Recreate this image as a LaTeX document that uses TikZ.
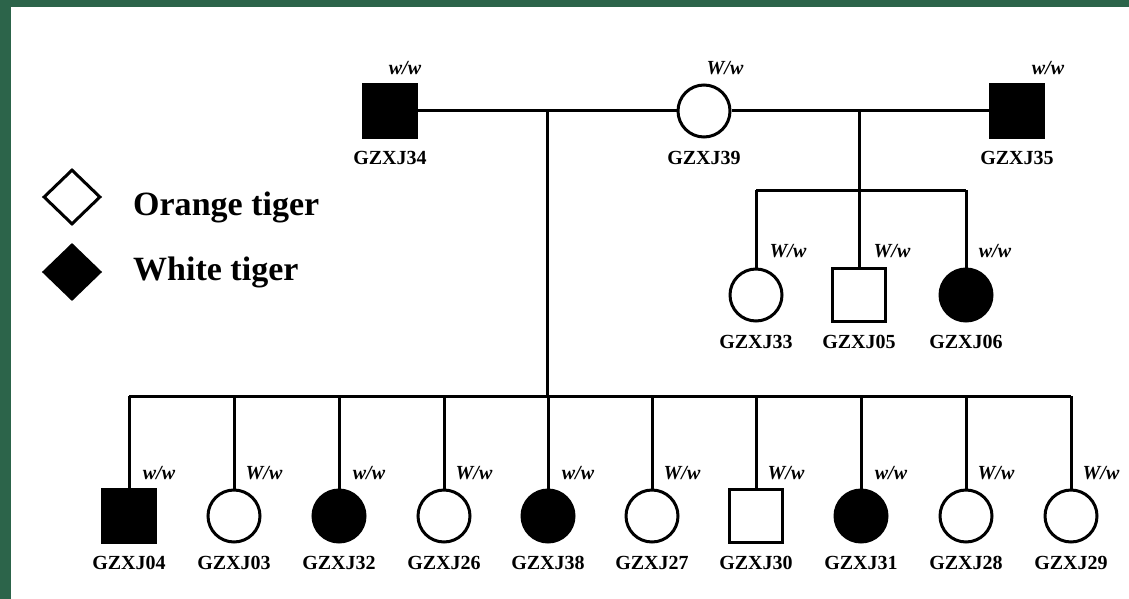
\documentclass[tikz,border=0pt]{standalone}
\usepackage{fontspec}
\setmainfont{Liberation Serif}
\usetikzlibrary{shapes.geometric}
\begin{document}
\begin{tikzpicture}[x=1pt,y=-1pt,
  lw/.style={line width=3pt},
  male/.style={draw, lw, rectangle, minimum size=53pt, inner sep=0pt},
  female/.style={draw, lw, circle, minimum size=52pt, inner sep=0pt},
  aff/.style={fill=black},
  unaff/.style={fill=white},
  idname/.style={font=\fontsize{20}{24}\selectfont\bfseries, inner sep=0pt, anchor=base},
  geno/.style={font=\fontsize{20}{24}\selectfont\bfseries\itshape, inner sep=0pt, anchor=base},
  legd/.style={draw, lw, diamond, minimum width=57pt, minimum height=55pt, inner sep=0pt},
  legtext/.style={font=\fontsize{34}{40}\selectfont\bfseries, inner sep=0pt, anchor=base west},
  conn/.style={lw}
]
\definecolor{frame}{HTML}{2C644A}
\useasboundingbox (0,0) rectangle (1129,599);
\fill[frame] (0,0) rectangle (1129,599);
\fill[white] (11,7) rectangle (1129,599);

% legend
\node[legd, fill=white] (lo) at (72,197) {};
\node[legd, fill=black] (lw) at (72,272) {};
\node[legtext] (lot) at (133,215) {Orange tiger};
\node[legtext] (lwt) at (133,280) {White tiger};

% generation I
\node[male, aff] (p34) at (390,111) {};
\node[female, unaff] (p39) at (704,111) {};
\node[male, aff] (p35) at (1017,111) {};
\node[idname] (n34) at (390,164) {GZXJ34};
\node[idname] (n39) at (704,164) {GZXJ39};
\node[idname] (n35) at (1017,164) {GZXJ35};
\node[geno] (g34) at (405,75) {w/w};
\node[geno] (g39) at (725,75) {W/w};
\node[geno] (g35) at (1048,75) {w/w};

\draw[conn] (p34.east) -- (p39.west);
\draw[conn] (p39.east) -- (p35.west);
\coordinate (m1) at (547,111);
\coordinate (m2) at (859,111);
\coordinate (sib1) at (547,396);
\coordinate (sib2) at (859,190);

% sibship of GZXJ39 x GZXJ35
\node[female, unaff] (c33) at (756,295) {};
\node[male, unaff] (c05) at (859,295) {};
\node[female, aff] (c06) at (966,295) {};
\node[idname] (n33) at (756,348) {GZXJ33};
\node[idname] (n05) at (859,348) {GZXJ05};
\node[idname] (n06) at (966,348) {GZXJ06};
\node[geno] (g33) at (788,257) {W/w};
\node[geno] (g05) at (892,257) {W/w};
\node[geno] (g06) at (995,257) {w/w};
\draw[conn] (m2) -- (c05.north);
\draw[conn] (c33.north |- sib2) -- (c06.north |- sib2);
\draw[conn] (c33.north |- sib2) -- (c33.north);
\draw[conn] (c06.north |- sib2) -- (c06.north);

% sibship of GZXJ34 x GZXJ39
\foreach \x/\id/\shp/\st/\gt in {
  129/04/male/aff/w,
  234/03/female/unaff/W,
  339/32/female/aff/w,
  444/26/female/unaff/W,
  548/38/female/aff/w,
  652/27/female/unaff/W,
  756/30/male/unaff/W,
  861/31/female/aff/w,
  966/28/female/unaff/W,
  1071/29/female/unaff/W}{
  \node[\shp, \st] (k\id) at (\x,516) {};
  \node[idname] (kn\id) at (\x,569) {GZXJ\id};
  \node[geno] (kg\id) at (\x+30,479) {\gt/w};
  \draw[conn] (k\id.north |- sib1) -- (k\id.north);
}
\draw[conn] (m1) -- (sib1);
\draw[conn] (k04.north |- sib1) -- (k29.north |- sib1);
\end{tikzpicture}
\end{document}
